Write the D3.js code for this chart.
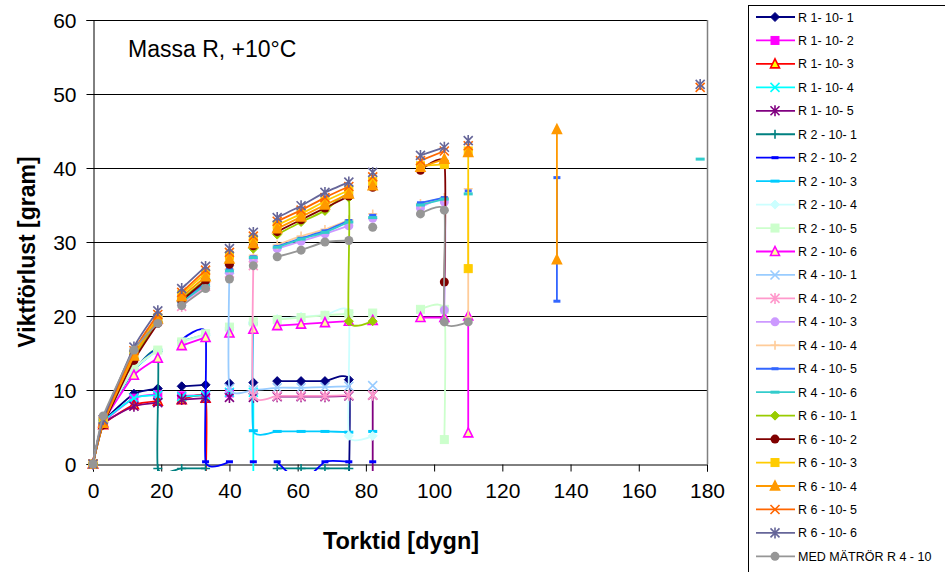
<!DOCTYPE html>
<html lang="sv">
<head>
<meta charset="utf-8">
<title>Massa R, +10°C</title>
<script src="https://cdn.jsdelivr.net/npm/d3@7"></script>
<style>
  body { margin: 0; background: #fff; }
  text { font-family: "Liberation Sans", Arial, sans-serif; }
</style>
</head>
<body>
<script>
// chart size and plot area
var w = 945, h = 572;
var plot = {x0: 93, x1: 707, y0: 20, y1: 464};

var xTicks = [0, 20, 40, 60, 80, 100, 120, 140, 160, 180];
var yTicks = [0, 10, 20, 30, 40, 50, 60];

// DATA: [dygn, gram], null = break in the line
var R1_10_1 = [[0,0],[3,5.6],[12,9.5],[19,10.2],null,[26,10.5],[33,10.7],null,[40,10.9],null,[47,11.0],null,[54,11.2],[61,11.2],[68,11.2],[75,11.4],[75,-3]];
var R1_10_2 = [[0,0],[3,5.5],[12,8.9],[19,9.4],null,[26,9.2],[33,9.3],null,[40,9.6]];
var R1_10_3 = [[0,0],[3,5.3],[12,8.0],[19,8.5],null,[26,8.7],[33,8.9],[33,-3]];
var R1_10_4 = [[0,0],[3,5.6],[12,8.9],[19,9.3],null,[26,9.1],[33,9.3],null,[40,9.7],null,[47,9.7],[47,-3]];
var R1_10_5 = [[0,0],[3,5.4],[12,7.8],[19,8.3],null,[26,8.7],[33,8.9],null,[40,9.0],null,[47,9.0],null,[54,9.1],[61,9.1],[68,9.1],[75,9.2],null,[82,9.3],[82,-3]];

var R2_10_1 = [[0,0],[3,5.8],[12,12.6],[19,15.2],[19,-0.6],[26,-0.6],[33,-0.6],null,[54,-0.6],[61,-0.6],[68,-0.6],[75,-0.6]];
var R2_10_2 = [[0,0],[3,5.9],[12,12.8],[19,15.6],null,[26,16.8],[33,17.8],[33,0.3],[40,0.3],null,[47,0.3],null,[54,0.3],[61,-2.5],[68,0.3],[75,0.3],null,[82,0.3]];
var R2_10_3 = [[0,0],[3,5.8],[12,12.7],[19,15.4],null,[26,16.6],[33,17.5],null,[40,18.2],null,[47,19.0],[47,4.5],[54,4.4],[61,4.4],[68,4.4],[75,4.3],null,[82,4.4]];
var R2_10_4 = [[0,0],[3,5.8],[12,12.8],[19,15.3],null,[26,16.5],[33,17.4],null,[40,18.4],null,[47,19.3],null,[54,19.6],[61,19.9],[68,20.1],[75,20.5],[75,3.8],[82,3.8]];
var R2_10_5 = [[0,0],[3,5.9],[12,12.9],[19,15.4],null,[26,16.5],[33,17.6],null,[40,18.5],null,[47,19.2],null,[54,19.5],[61,19.8],[68,20.1],[75,20.3],null,[82,20.4],null,[96,20.9],[103,20.9],[103,3.3]];
var R2_10_6 = [[0,0],[3,5.6],[12,12.0],[19,14.3],null,[26,16.0],[33,17.1],null,[40,17.7],null,[47,18.2],null,[54,18.7],[61,18.9],[68,19.1],[75,19.3],null,[82,19.4],null,[96,19.8],[103,19.8],null,[110,20.0],[110,4.2]];

var R4_10_1 = [[0,0],[3,6.0],[12,15.0],[19,19.6],null,[26,22.0],[33,24.5],null,[40,26.3],[40,10.2],[47,10.0],[54,10.3],[61,10.3],[68,10.4],[75,10.5],null,[82,10.6]];
var R4_10_2 = [[0,0],[3,6.0],[12,14.8],[19,19.4],null,[26,21.3],[33,24.0],null,[40,25.8],null,[47,26.8],[47,9.3],[54,9.2],[61,9.2],[68,9.2],[75,9.3],null,[82,9.3]];
var R4_10_3 = [[0,0],[3,6.1],[12,15.0],[19,19.5],null,[26,21.7],[33,24.2],null,[40,25.9],null,[47,27.7],null,[54,29.1],[61,30.1],[68,31.1],[75,32.2],null,[82,33.2],null,[96,34.6],[103,35.4],[103,20.8]];
var R4_10_4 = [[0,0],[3,6.1],[12,15.2],[19,19.8],null,[26,22.2],[33,24.6],null,[40,26.4],null,[47,28.2],null,[54,29.6],[61,30.8],[68,31.7],[75,33.0],null,[82,33.8],null,[96,35.2],[103,36.0],null,[110,37.2],[110,19.8]];
var R4_10_5 = [[0,0],[3,6.0],[12,15.1],[19,19.7],null,[26,22.0],[33,24.5],null,[40,26.3],null,[47,28.0],null,[54,29.4],[61,30.5],[68,31.5],[75,32.9],null,[82,33.6],null,[96,35.3],[103,36.0],null,[110,36.9],null,[136,38.7],[136,22.0]];
var R4_10_6 = [[0,0],[3,6.0],[12,15.0],[19,19.6],null,[26,21.9],[33,24.2],null,[40,26.1],null,[47,27.9],null,[54,29.3],[61,30.4],[68,31.3],[75,32.7],null,[82,33.3],null,[96,35.0],[103,35.8],null,[110,36.5],null,[178,41.2]];

var R6_10_1 = [[0,0],[3,5.4],[12,14.3],[19,19.3],null,[26,22.3],[33,24.9],null,[40,27.3],null,[47,29.1],null,[54,31.0],[61,32.7],[68,34.2],[75,36.0],[75,19.3],[82,19.3]];
var R6_10_2 = [[0,0],[3,5.3],[12,14.0],[19,19.0],null,[26,22.1],[33,24.8],null,[40,27.0],null,[47,29.5],null,[54,31.4],[61,33.0],[68,34.6],[75,36.2],null,[82,37.4],null,[96,39.7],[103,40.8],[103,24.6]];
var R6_10_3 = [[0,0],[3,5.6],[12,14.9],[19,19.8],null,[26,22.9],[33,25.8],null,[40,28.2],null,[47,30.4],null,[54,32.3],[61,33.8],[68,35.5],[75,37.0],null,[82,38.2],null,[96,40.3],[103,40.5],null,[110,42.3],[110,26.4]];
var R6_10_4 = [[0,0],[3,5.5],[12,14.6],[19,19.6],null,[26,22.6],[33,25.3],null,[40,27.7],null,[47,29.8],null,[54,31.8],[61,33.4],[68,35.0],[75,36.5],null,[82,37.6],null,[96,40.1],[103,41.2],null,[110,42.1],null,[136,27.6],[136,45.2]];
var R6_10_5 = [[0,0],[3,5.8],[12,15.3],[19,20.2],null,[26,23.2],[33,26.2],null,[40,28.6],null,[47,30.8],null,[54,32.8],[61,34.3],[68,36.0],[75,37.5],null,[82,38.8],null,[96,41.0],[103,42.3],null,[110,43.0],null,[178,50.9]];
var R6_10_6 = [[0,0],[3,6.0],[12,15.8],[19,20.7],null,[26,23.7],[33,26.7],null,[40,29.1],null,[47,31.3],null,[54,33.3],[61,34.9],[68,36.7],[75,38.1],null,[82,39.4],null,[96,41.7],[103,42.8],null,[110,43.7],null,[178,51.3]];
var MED_R4_10 = [[0,0],[3,6.5],[12,15.4],[19,19.0],null,[26,21.4],[33,23.7],null,[40,25.0],null,[47,26.8],null,[54,28.0],[61,28.9],[68,30.0],[75,30.2],null,[82,32.0],null,[96,33.8],[103,34.3],[103,19.2],[110,19.2]];

var names = ["R 1- 10- 1","R 1- 10- 2","R 1- 10- 3","R 1- 10- 4","R 1- 10- 5",
  "R 2 - 10- 1","R 2 - 10- 2","R 2 - 10- 3","R 2 - 10- 4","R 2 - 10- 5","R 2 - 10- 6",
  "R 4 - 10- 1","R 4 - 10- 2","R 4 - 10- 3","R 4 - 10- 4","R 4 - 10- 5","R 4 - 10- 6",
  "R 6 - 10- 1","R 6 - 10- 2","R 6 - 10- 3","R 6 - 10- 4","R 6 - 10- 5","R 6 - 10- 6",
  "MED MÄTRÖR R 4 - 10"];
var values = [R1_10_1,R1_10_2,R1_10_3,R1_10_4,R1_10_5,
  R2_10_1,R2_10_2,R2_10_3,R2_10_4,R2_10_5,R2_10_6,
  R4_10_1,R4_10_2,R4_10_3,R4_10_4,R4_10_5,R4_10_6,
  R6_10_1,R6_10_2,R6_10_3,R6_10_4,R6_10_5,R6_10_6,MED_R4_10];

// look of each series: line colour, marker, marker fill
var styles = [
  {c:"#000080", m:"diamond"},
  {c:"#FF00FF", m:"square"},
  {c:"#FF0000", m:"triangle", fill:"#FFFF00"},
  {c:"#00FFFF", m:"x"},
  {c:"#800080", m:"star"},
  {c:"#008080", m:"plus"},
  {c:"#0000FF", m:"dash", dw:3.5},
  {c:"#00CCFF", m:"dash", dw:4.5},
  {c:"#CCFFFF", m:"diamond"},
  {c:"#CCFFCC", m:"square"},
  {c:"#FF00FF", m:"triangle", fill:"#FFFF99"},
  {c:"#99CCFF", m:"x"},
  {c:"#FF99CC", m:"star"},
  {c:"#CC99FF", m:"circle"},
  {c:"#FFCC99", m:"plus"},
  {c:"#3366FF", m:"dash", dw:3.5},
  {c:"#33CCCC", m:"dash", dw:4.5},
  {c:"#99CC00", m:"diamond"},
  {c:"#800000", m:"circle"},
  {c:"#FFCC00", m:"square"},
  {c:"#FF9900", m:"triangle"},
  {c:"#FF6600", m:"x"},
  {c:"#666699", m:"star"},
  {c:"#969696", m:"circle"}
];

var svg = d3.select("body").append("svg")
  .attr("width", w).attr("height", h);

var x = d3.scaleLinear().domain([0, 180]).range([plot.x0, plot.x1]);
var y = d3.scaleLinear().domain([0, 60]).range([plot.y1, plot.y0]);

// gridlines
svg.selectAll("line.grid").data(yTicks.filter(function(d) { return d > 0; }))
  .enter().append("line")
  .attr("class", "grid")
  .attr("x1", plot.x0).attr("x2", plot.x1)
  .attr("y1", function(d) { return Math.round(y(d)) + 0.5; })
  .attr("y2", function(d) { return Math.round(y(d)) + 0.5; })
  .attr("stroke", "#000").attr("stroke-width", 1);

// right border of plot area
svg.append("line")
  .attr("x1", plot.x1 + 0.5).attr("x2", plot.x1 + 0.5)
  .attr("y1", plot.y0).attr("y2", plot.y1)
  .attr("stroke", "#808080").attr("stroke-width", 1.5);

// axes
var yAxis = d3.axisLeft(y).tickValues(yTicks).tickSize(7).tickPadding(10);
var xAxis = d3.axisBottom(x).tickValues(xTicks).tickSize(7).tickPadding(12);

var gy = svg.append("g").attr("transform", "translate(" + (plot.x0 + 0.5) + ",0)").call(yAxis);
var gx = svg.append("g").attr("transform", "translate(0," + (plot.y1 + 0.5) + ")").call(xAxis);
[gx, gy].forEach(function(g) {
  g.selectAll("path,line").attr("stroke", "#000");
  g.selectAll("text").attr("font-size", "21px").attr("fill", "#000")
    .style("font-family", "'Liberation Sans', Arial, sans-serif");
});
gy.selectAll(".tick text").attr("dy", "0.36em");

// clip for the lines and markers (Excel lets lines run a little under the axis)
svg.append("clipPath").attr("id", "clip")
  .append("rect")
  .attr("x", plot.x0 - 8).attr("y", plot.y0 - 10)
  .attr("width", plot.x1 - plot.x0 + 16).attr("height", plot.y1 - plot.y0 + 17);

// smoothed lines, a bit tighter than plain Catmull-Rom
var line = d3.line()
  .defined(function(d) { return d !== null; })
  .x(function(d) { return x(d[0]); })
  .y(function(d) { return y(d[1]); })
  .curve(d3.curveCardinal.tension(0.5));

// marker shapes
function drawMarker(g, st, r) {
  var c = st.c;
  var f = st.fill || c;
  if (st.m === "diamond") {
    g.append("path").attr("d", "M0," + (-r) + "L" + r + ",0L0," + r + "L" + (-r) + ",0Z")
      .attr("fill", c).attr("stroke", c);
  } else if (st.m === "square") {
    g.append("rect").attr("x", -r + 0.5).attr("y", -r + 0.5)
      .attr("width", 2 * r - 1).attr("height", 2 * r - 1)
      .attr("fill", c).attr("stroke", c);
  } else if (st.m === "triangle") {
    g.append("path").attr("d", "M0," + (-r - 0.5) + "L" + (r) + "," + (r - 0.5) + "L" + (-r) + "," + (r - 0.5) + "Z")
      .attr("fill", f).attr("stroke", c).attr("stroke-width", 1.6);
  } else if (st.m === "circle") {
    g.append("circle").attr("r", r).attr("fill", c);
  } else if (st.m === "x") {
    g.append("path").attr("d", "M" + (-r) + "," + (-r) + "L" + r + "," + r + "M" + (-r) + "," + r + "L" + r + "," + (-r))
      .attr("stroke", c).attr("stroke-width", 1.6).attr("fill", "none");
  } else if (st.m === "star") {
    g.append("path").attr("d", "M" + (-r) + "," + (-r) + "L" + r + "," + r + "M" + (-r) + "," + r + "L" + r + "," + (-r) + "M0," + (-r - 1) + "L0," + (r + 1))
      .attr("stroke", c).attr("stroke-width", 1.6).attr("fill", "none");
  } else if (st.m === "plus") {
    g.append("path").attr("d", "M" + (-r) + ",0H" + r + "M0," + (-r) + "V" + r)
      .attr("stroke", c).attr("stroke-width", 1.6).attr("fill", "none");
  } else if (st.m === "dash") {
    g.append("rect").attr("x", -st.dw).attr("y", -1.5)
      .attr("width", 2 * st.dw).attr("height", 3).attr("fill", c);
  }
}

var chart = svg.append("g").attr("clip-path", "url(#clip)");

values.forEach(function(data, i) {
  var st = styles[i];
  var g = chart.append("g");
  g.append("path").datum(data)
    .attr("d", line)
    .attr("fill", "none")
    .attr("stroke", st.c)
    .attr("stroke-width", 1.8);
  g.selectAll("g.mk").data(data.filter(function(d) { return d !== null; }))
    .enter().append("g")
    .attr("class", "mk")
    .attr("transform", function(d) { return "translate(" + x(d[0]) + "," + y(d[1]) + ")"; })
    .each(function() { drawMarker(d3.select(this), st, 4.5); });
});

// title inside plot
svg.append("text").attr("x", 128).attr("y", 57)
  .attr("font-size", "23px").attr("fill", "#000")
  .text("Massa R, +10°C");

// axis titles
svg.append("text")
  .attr("transform", "translate(35," + ((plot.y0 + plot.y1) / 2 + 10) + ") rotate(-90)")
  .attr("text-anchor", "middle").attr("font-size", "23px").attr("font-weight", "bold")
  .text("Viktförlust [gram]");
svg.append("text")
  .attr("x", 401).attr("y", 549)
  .attr("text-anchor", "middle").attr("font-size", "23.5px").attr("font-weight", "bold")
  .text("Torktid [dygn]");

// LEGEND
var leg = svg.append("g");
leg.append("rect").attr("x", 748.5).attr("y", 5.5).attr("width", 220).attr("height", 600)
  .attr("fill", "#fff").attr("stroke", "#000").attr("stroke-width", 1);
var item = leg.selectAll("g.item").data(names).enter().append("g")
  .attr("class", "item")
  .attr("transform", function(d, i) { return "translate(0," + (17 + i * 23.45) + ")"; });
item.append("line").attr("x1", 756).attr("x2", 795).attr("y1", 0).attr("y2", 0)
  .attr("stroke", function(d, i) { return styles[i].c; }).attr("stroke-width", 1.8);
item.append("g").attr("transform", "translate(775,0)")
  .each(function(d, i) { drawMarker(d3.select(this), styles[i], 4.5); });
item.append("text").attr("x", 798).attr("y", 0).attr("dy", "0.36em")
  .attr("font-size", "12.5px").attr("fill", "#000")
  .text(function(d) { return d; });
</script>
</body>
</html>
